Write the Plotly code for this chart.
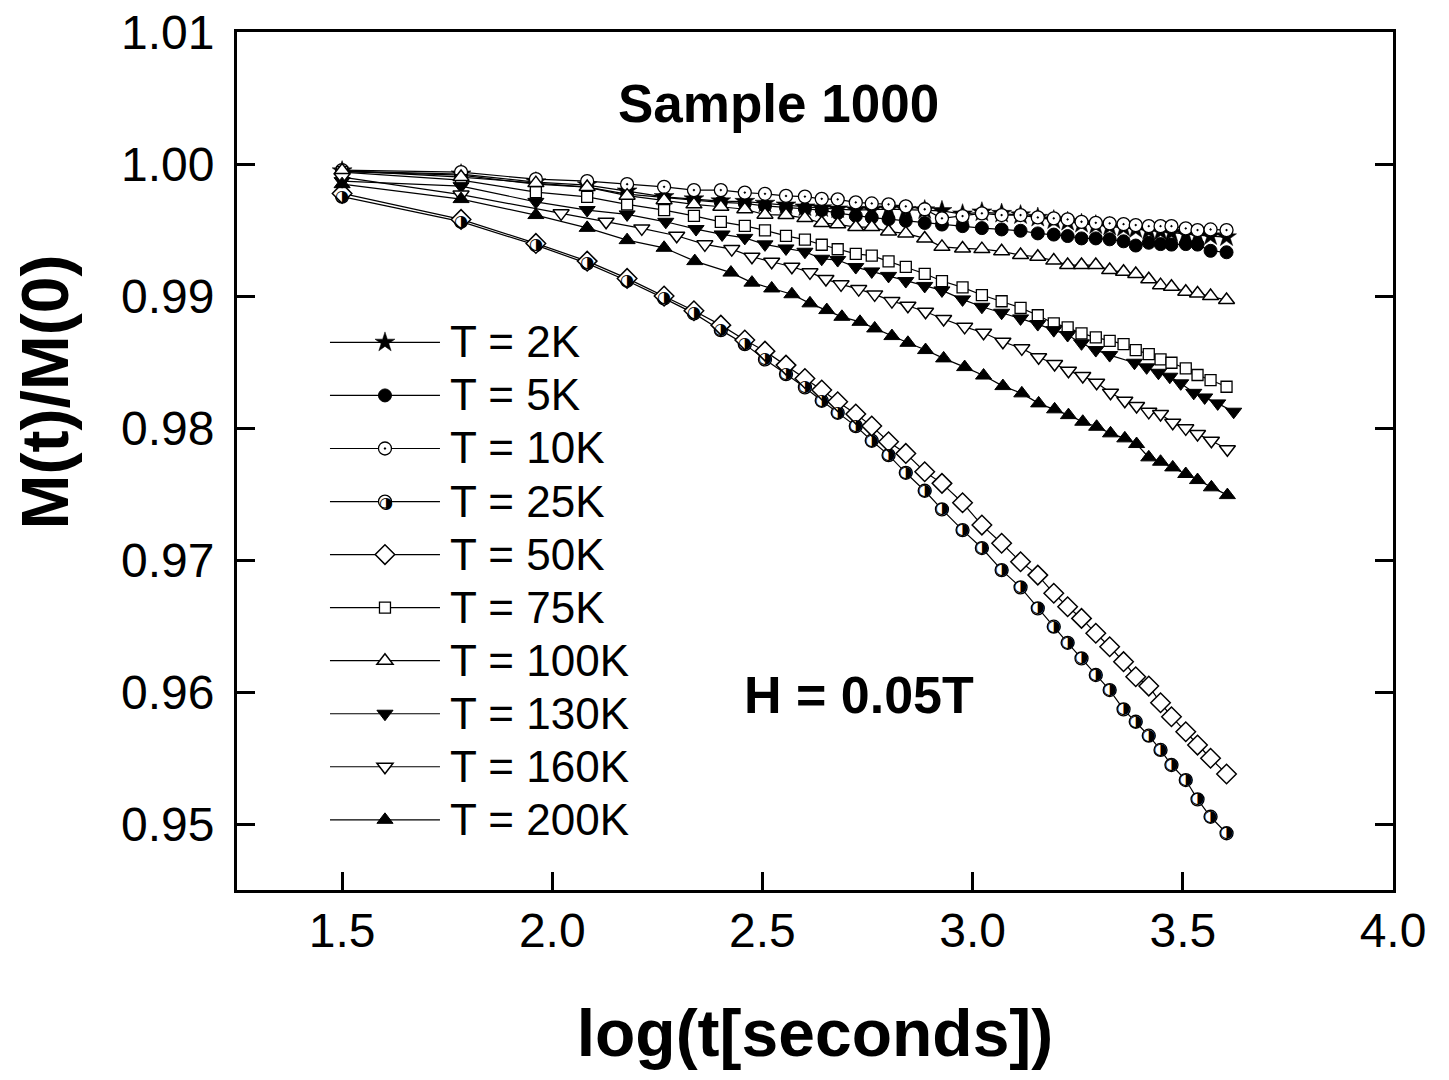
import plotly.graph_objects as go

# ---------------- data ----------------
LOG_T_A = [1.500, 1.783, 1.961, 2.083, 2.178, 2.266, 2.337, 2.401, 2.458, 2.506,
           2.556, 2.601, 2.641, 2.679, 2.722, 2.760, 2.800, 2.841, 2.886, 2.927,
           2.976, 3.022, 3.069, 3.114, 3.155, 3.193, 3.226, 3.259, 3.293, 3.326,
           3.359, 3.388, 3.419, 3.447, 3.473, 3.507, 3.535, 3.566, 3.604]
LOG_T_130 = [1.500, 1.783, 1.961, 2.083, 2.178, 2.270, 2.342, 2.404, 2.458, 2.506,
             2.556, 2.601, 2.641, 2.679, 2.722, 2.760, 2.800, 2.841, 2.886, 2.927,
             2.976, 3.022, 3.069, 3.114, 3.155, 3.193, 3.226, 3.259, 3.293, 3.326,
             3.385, 3.414, 3.442, 3.469, 3.495, 3.526, 3.552, 3.583, 3.621]
LOG_T_B = [1.500, 1.783, 1.961, 2.083, 2.178, 2.266, 2.339, 2.425, 2.475, 2.522,
           2.570, 2.613, 2.653, 2.689, 2.732, 2.767, 2.808, 2.846, 2.888, 2.931,
           2.981, 3.026, 3.072, 3.117, 3.157, 3.195, 3.228, 3.262, 3.295, 3.328,
           3.362, 3.390, 3.419, 3.447, 3.476, 3.507, 3.535, 3.568, 3.606]
LOG_T_C = [1.500, 1.783, 2.021, 2.128, 2.213, 2.296, 2.363, 2.427, 2.475, 2.522,
           2.570, 2.613, 2.651, 2.687, 2.729, 2.767, 2.808, 2.846, 2.888, 2.931,
           2.981, 3.026, 3.072, 3.117, 3.157, 3.195, 3.228, 3.262, 3.295, 3.328,
           3.362, 3.390, 3.419, 3.447, 3.476, 3.507, 3.535, 3.568, 3.606]

M_2K = [0.99947, 0.99924, 0.99864, 0.99841, 0.99795, 0.99752, 0.99735, 0.99720, 0.99716, 0.99702,
        0.99689, 0.99674, 0.99667, 0.99659, 0.99652, 0.99655, 0.99659, 0.99655, 0.99652, 0.99646,
        0.99621, 0.99636, 0.99625, 0.99614, 0.99595, 0.99576, 0.99564, 0.99549, 0.99538, 0.99527,
        0.99519, 0.99508, 0.99496, 0.99489, 0.99481, 0.99470, 0.99462, 0.99455, 0.99447]
M_5K = [0.99943, 0.99917, 0.99848, 0.99826, 0.99773, 0.99745, 0.99727, 0.99710, 0.99702, 0.99683,
        0.99670, 0.99661, 0.99652, 0.99629, 0.99608, 0.99595, 0.99583, 0.99570, 0.99554, 0.99542,
        0.99530, 0.99515, 0.99505, 0.99495, 0.99475, 0.99466, 0.99455, 0.99437, 0.99437, 0.99430,
        0.99415, 0.99383, 0.99404, 0.99394, 0.99390, 0.99394, 0.99390, 0.99343, 0.99332]
M_10K = [0.99955, 0.99939, 0.99886, 0.99871, 0.99848, 0.99828, 0.99803, 0.99803, 0.99784, 0.99775,
         0.99759, 0.99754, 0.99737, 0.99733, 0.99710, 0.99702, 0.99695, 0.99680, 0.99658, 0.99589,
         0.99606, 0.99627, 0.99614, 0.99614, 0.99596, 0.99589, 0.99581, 0.99563, 0.99555, 0.99551,
         0.99545, 0.99538, 0.99530, 0.99530, 0.99530, 0.99513, 0.99500, 0.99505, 0.99500]
M_25K = [0.99754, 0.99564, 0.99386, 0.99248, 0.99116, 0.98983, 0.98869, 0.98742, 0.98636, 0.98520,
         0.98409, 0.98308, 0.98207, 0.98116, 0.98015, 0.97904, 0.97795, 0.97661, 0.97525, 0.97384,
         0.97227, 0.97091, 0.96924, 0.96793, 0.96634, 0.96495, 0.96373, 0.96255, 0.96129, 0.96015,
         0.95869, 0.95775, 0.95669, 0.95561, 0.95447, 0.95333, 0.95187, 0.95055, 0.94930]
M_50K = [0.99778, 0.99581, 0.99399, 0.99265, 0.99134, 0.99000, 0.98889, 0.98780, 0.98667, 0.98583,
         0.98477, 0.98376, 0.98288, 0.98199, 0.98106, 0.98015, 0.97896, 0.97808, 0.97669, 0.97581,
         0.97434, 0.97265, 0.97127, 0.96987, 0.96886, 0.96748, 0.96646, 0.96558, 0.96445, 0.96343,
         0.96230, 0.96116, 0.96045, 0.95919, 0.95813, 0.95699, 0.95598, 0.95498, 0.95379]
M_75K = [0.99939, 0.99879, 0.99788, 0.99752, 0.99695, 0.99652, 0.99608, 0.99563, 0.99532, 0.99498,
         0.99456, 0.99428, 0.99389, 0.99355, 0.99320, 0.99307, 0.99263, 0.99221, 0.99169, 0.99114,
         0.99066, 0.99008, 0.98961, 0.98911, 0.98855, 0.98793, 0.98763, 0.98717, 0.98687, 0.98661,
         0.98636, 0.98591, 0.98561, 0.98520, 0.98495, 0.98452, 0.98402, 0.98364, 0.98313]
M_100K = [0.99951, 0.99902, 0.99856, 0.99826, 0.99761, 0.99727, 0.99695, 0.99677, 0.99658, 0.99617,
          0.99614, 0.99591, 0.99554, 0.99544, 0.99523, 0.99523, 0.99489, 0.99475, 0.99437, 0.99373,
          0.99361, 0.99356, 0.99339, 0.99311, 0.99298, 0.99269, 0.99235, 0.99235, 0.99235, 0.99197,
          0.99184, 0.99167, 0.99127, 0.99083, 0.99071, 0.99033, 0.99020, 0.99000, 0.98970]
M_130K = [0.99871, 0.99833, 0.99714, 0.99652, 0.99619, 0.99563, 0.99508, 0.99467, 0.99441, 0.99392,
          0.99361, 0.99336, 0.99283, 0.99273, 0.99220, 0.99187, 0.99153, 0.99114, 0.99077, 0.99043,
          0.98975, 0.98919, 0.98874, 0.98831, 0.98788, 0.98742, 0.98705, 0.98642, 0.98591, 0.98553,
          0.98495, 0.98460, 0.98419, 0.98389, 0.98339, 0.98267, 0.98232, 0.98187, 0.98124]
M_160K = [0.99902, 0.99769, 0.99627, 0.99563, 0.99513, 0.99457, 0.99392, 0.99356, 0.99298, 0.99260,
          0.99222, 0.99180, 0.99129, 0.99089, 0.99053, 0.99013, 0.98962, 0.98927, 0.98881, 0.98826,
          0.98767, 0.98722, 0.98654, 0.98604, 0.98536, 0.98485, 0.98434, 0.98394, 0.98343, 0.98267,
          0.98207, 0.98167, 0.98123, 0.98106, 0.98040, 0.97998, 0.97955, 0.97904, 0.97839]
M_200K = [0.99848, 0.99735, 0.99614, 0.99517, 0.99424, 0.99366, 0.99265, 0.99178, 0.99102, 0.99058,
          0.99014, 0.98945, 0.98894, 0.98843, 0.98805, 0.98755, 0.98697, 0.98646, 0.98591, 0.98528,
          0.98462, 0.98398, 0.98318, 0.98263, 0.98187, 0.98142, 0.98098, 0.98048, 0.98010, 0.97960,
          0.97922, 0.97879, 0.97778, 0.97745, 0.97702, 0.97652, 0.97606, 0.97551, 0.97492]

LABELS = ["T = 2K", "T = 5K", "T = 10K", "T = 25K", "T = 50K",
          "T = 75K", "T = 100K", "T = 130K", "T = 160K", "T = 200K"]
X_TICKS = [1.5, 2.0, 2.5, 3.0, 3.5, 4.0]
Y_TICKS = [0.95, 0.96, 0.97, 0.98, 0.99, 1.00, 1.01]

SERIES = [
    (LOG_T_A, M_2K), (LOG_T_A, M_5K), (LOG_T_A, M_10K), (LOG_T_A, M_25K),
    (LOG_T_A, M_50K), (LOG_T_A, M_75K), (LOG_T_A, M_100K), (LOG_T_130, M_130K),
    (LOG_T_C, M_160K), (LOG_T_B, M_200K),
]

# ---------------- styles ----------------
FONT = "Liberation Sans, Arial, Helvetica, sans-serif"
HALF = "\u25D1"
STYLES = [
    dict(symbol="star", size=15, color="black", line=dict(color="black", width=0.5)),
    dict(symbol="circle", size=13, color="black", line=dict(color="black", width=1)),
    dict(symbol="circle-dot", size=13, color="white", line=dict(color="black", width=1.3)),
    dict(symbol="circle", size=13, color="white", line=dict(color="black", width=1.3)),
    dict(symbol="diamond", size=15, color="white", line=dict(color="black", width=1.5)),
    dict(symbol="square", size=11, color="white", line=dict(color="black", width=1.3)),
    dict(symbol="triangle-up", size=14, color="white", line=dict(color="black", width=1.5)),
    dict(symbol="triangle-down", size=14, color="black", line=dict(color="black", width=1)),
    dict(symbol="triangle-down", size=14, color="white", line=dict(color="black", width=1.5)),
    dict(symbol="triangle-up", size=14, color="black", line=dict(color="black", width=1)),
]

fig = go.Figure()
for (xs, ys), lab, st in zip(SERIES, LABELS, STYLES):
    fig.add_trace(go.Scatter(
        x=xs, y=ys, mode="lines+markers",
        name=('<span style="font-size:18px">\u00a0</span>'
              '<span style="font-size:44px">%s</span>' % lab),
        line=dict(color="black", width=1.2),
        marker=st,
    ))

# half-filled circle glyphs for T = 25K
fig.add_trace(go.Scatter(
    x=LOG_T_A, y=M_25K, mode="text", text=[HALF] * len(LOG_T_A),
    textposition="middle center", showlegend=False, hoverinfo="skip",
    textfont=dict(family="DejaVu Sans", size=16, color="black"),
))

fig.update_layout(
    width=1449, height=1080,
    margin=dict(l=229, r=64, t=24, b=198, autoexpand=False),
    paper_bgcolor="white", plot_bgcolor="white",
    font=dict(family=FONT, color="black"),
    showlegend=True,
    legend=dict(
        x=0.0761, y=0.675, xanchor="left", yanchor="top",
        bgcolor="rgba(0,0,0,0)", borderwidth=0,
        font=dict(family=FONT, size=38.5, color="black"),
        itemwidth=110, tracegroupgap=0,
    ),
    xaxis=dict(
        range=[1.25, 4.0], tickvals=X_TICKS, ticktext=[f"{v:.1f}" for v in X_TICKS],
        ticks="inside", ticklen=18, tickwidth=3, tickcolor="black",
        showline=True, linewidth=3, linecolor="black", mirror=True,
        showgrid=False, zeroline=False, automargin=False,
        tickfont=dict(family=FONT, size=48, color="black"),
        ticklabelstandoff=-4, ticklabeloverflow="allow",
        title=dict(text="<b>log(t[seconds])</b>", font=dict(family=FONT, size=66, color="black"),
                   standoff=55),
    ),
    yaxis=dict(
        range=[0.945, 1.01001], tickvals=Y_TICKS, ticktext=[f"{v:.2f}" for v in Y_TICKS],
        ticks="inside", ticklen=18, tickwidth=3, tickcolor="black",
        showline=True, linewidth=3, linecolor="black", mirror="ticks",
        showgrid=False, zeroline=False, automargin=False,
        tickfont=dict(family=FONT, size=48, color="black"),
        ticklabelstandoff=10, ticklabeloverflow="allow",
    ),
    annotations=[
        dict(x=-0.166, y=0.580, xref="paper", yref="paper", text="<b>M(t)/M(0)</b>",
             textangle=-90, xanchor="center", yanchor="middle", showarrow=False,
             font=dict(family=FONT, size=66, color="black")),
        dict(x=2.537, y=1.00462, xref="x", yref="y", text="<b>Sample 1000</b>",
             showarrow=False, font=dict(family=FONT, size=53, color="black")),
        dict(x=2.730, y=0.95977, xref="x", yref="y", text="<b>H = 0.05T</b>",
             showarrow=False, font=dict(family=FONT, size=52, color="black")),
        # half-filled symbol over the legend sample of T = 25K
        dict(x=0.1289, y=0.4522, xref="paper", yref="paper", text=HALF,
             xanchor="center", yanchor="middle", showarrow=False,
             font=dict(family="DejaVu Sans", size=16, color="black")),
    ],
)

fig.write_html("out.html")
